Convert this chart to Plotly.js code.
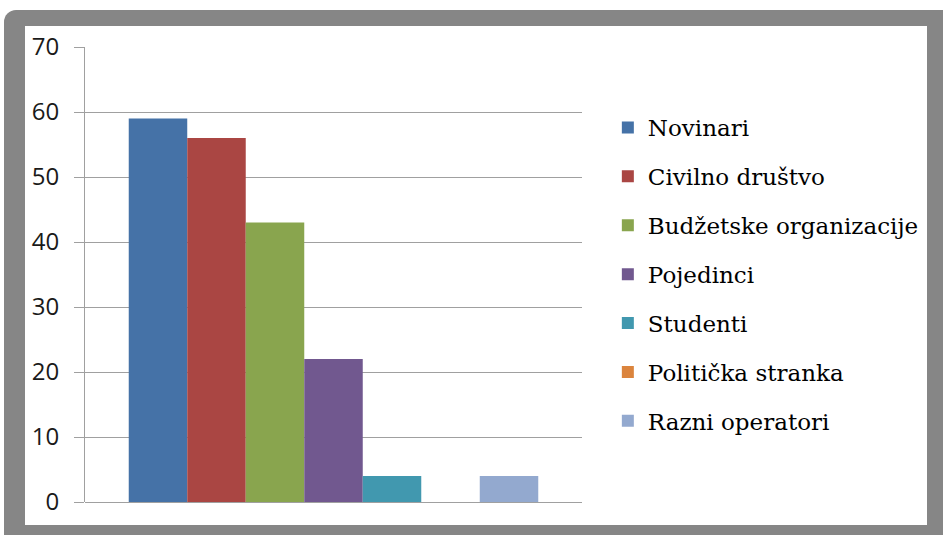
<!DOCTYPE html>
<html>
<head>
<meta charset="utf-8">
<script src="https://cdn.plot.ly/plotly-3.0.1.min.js"></script>
<style>
  html, body { margin: 0; padding: 0; background: #ffffff; width: 943px; height: 535px; overflow: hidden; }
  #frame { position: absolute; left: 4px; top: 10px; width: 939px; height: 525px; background: #868686; border-top-left-radius: 12px; }
  #inner { position: absolute; left: 25px; top: 26px; width: 902px; height: 499px; background: #ffffff; }
  #chart { position: absolute; left: 0; top: 0; width: 943px; height: 535px; }
</style>
</head>
<body>
<div id="frame"></div>
<div id="inner"></div>
<div id="chart"></div>
<script>
const seriesNames = ["Novinari", "Civilno društvo", "Budžetske organizacije", "Pojedinci", "Studenti", "Politička stranka", "Razni operatori"];
const seriesValues = [59, 56, 43, 22, 4, 0, 4];
const seriesColors = ["#4572A7", "#AA4643", "#89A54E", "#71588F", "#4198AF", "#DB843D", "#93A9CF"];
const category = [""];
const yTicks = [0, 10, 20, 30, 40, 50, 60, 70];

const traces = seriesNames.map((name, i) => ({
  type: "bar",
  name: name,
  x: category,
  y: [seriesValues[i]],
  legendgroup: "g" + i,
  marker: { color: seriesColors[i], line: { width: 0 } },
  hoverinfo: "name+y"
}));

const layout = {
  width: 943,
  height: 535,
  margin: { l: 85, r: 361, t: 47, b: 33, pad: 0 },
  paper_bgcolor: "rgba(0,0,0,0)",
  plot_bgcolor: "#ffffff",
  barmode: "group",
  bargap: 0.176,
  bargroupgap: 0,
  showlegend: true,
  legend: {
    x: 1.052, xanchor: "left",
    y: 0.5, yanchor: "middle",
    font: { family: "DejaVu Serif", size: 23, color: "#000000" },
    tracegroupgap: 16,
    bgcolor: "rgba(0,0,0,0)",
    traceorder: "grouped"
  },
  xaxis: {
    type: "category",
    showticklabels: false,
    ticks: "",
    showgrid: false,
    zeroline: false,
    showline: false,
    fixedrange: true
  },
  yaxis: {
    range: [0, 70],
    tickvals: yTicks,
    ticktext: yTicks.map(String),
    ticks: "outside",
    ticklen: 10,
    tickcolor: "#a0a0a0",
    tickwidth: 1,
    ticklabelstandoff: 10,
    showgrid: true,
    gridcolor: "#a0a0a0",
    gridwidth: 1,
    zeroline: true,
    zerolinecolor: "#a0a0a0",
    zerolinewidth: 1,
    showline: true,
    linecolor: "#a0a0a0",
    linewidth: 1,
    tickfont: { family: "Open Sans", size: 24, color: "#1a1a1a" },
    fixedrange: true
  }
};

Plotly.newPlot("chart", traces, layout, { displayModeBar: false, staticPlot: true });
</script>
</body>
</html>
